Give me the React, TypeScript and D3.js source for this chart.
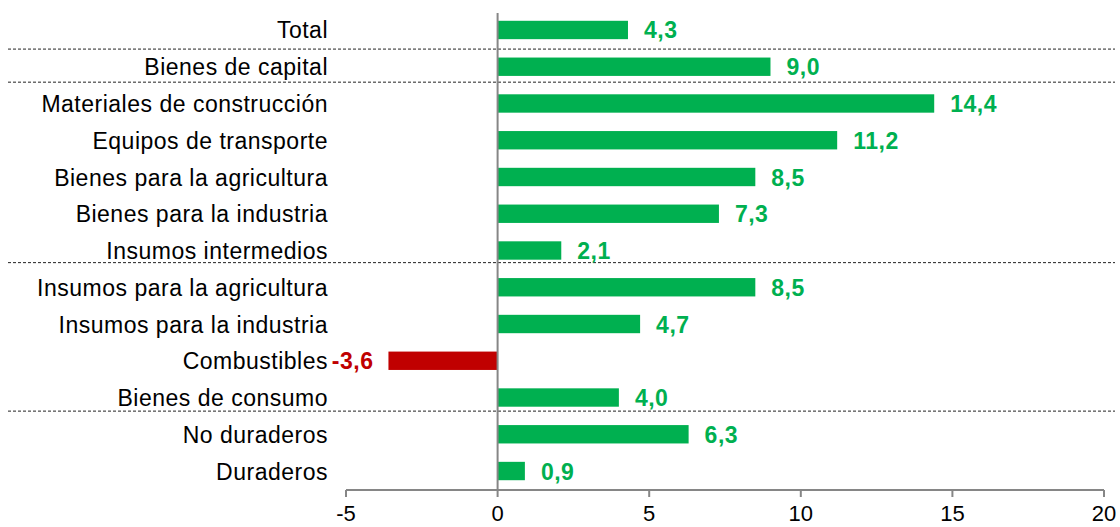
import React from "react";
import * as d3 from "d3";

const categories: string[] = [
  "Total",
  "Bienes de capital",
  "Materiales de construcción",
  "Equipos de transporte",
  "Bienes para la agricultura",
  "Bienes para la industria",
  "Insumos intermedios",
  "Insumos para la agricultura",
  "Insumos para la industria",
  "Combustibles",
  "Bienes de consumo",
  "No duraderos",
  "Duraderos",
];

const values: number[] = [4.3, 9.0, 14.4, 11.2, 8.5, 7.3, 2.1, 8.5, 4.7, -3.6, 4.0, 6.3, 0.9];

const xTicks: number[] = [-5, 0, 5, 10, 15, 20];

const separatorsAfter: string[] = ["Total", "Bienes de capital", "Insumos intermedios", "Bienes de consumo"];

// layout (not data)
const W = 1120;
const H = 527;
const sepOffsets = [0.52, 0.42, 0.33, 0.37];
const FONT = "'Liberation Sans', Arial, sans-serif";
const GREEN = "#00B050";
const RED = "#C00000";
const AXIS = "#868686";

export default function App() {
  const x = d3.scaleLinear().domain([-5, 20]).range([346, 1104]);
  const y = d3
    .scaleBand<string>()
    .domain(categories)
    .range([11.6, 489.4])
    .paddingInner(0.5)
    .paddingOuter(0.25);
  const bw = y.bandwidth();
  const step = y.step();
  const axisY = 490;
  const fmt = (v: number) => d3.format(".1f")(v).replace(".", ",").replace("−", "-");

  return (
    <svg
      width={W}
      height={H}
      style={{ position: "absolute", left: 0, top: 0, background: "#fff" }}
      fontFamily={FONT}
    >
      {/* separators */}
      {separatorsAfter.map((c, i) => {
        const yy = (y(c) as number) + bw / 2 + step * sepOffsets[i];
        return (
          <line
            key={"sep" + i}
            x1={8}
            x2={1115}
            y1={yy}
            y2={yy}
            stroke="#222"
            strokeWidth={1}
            strokeDasharray="3,2"
          />
        );
      })}

      {/* bars */}
      {categories.map((c, i) => {
        const v = values[i];
        const x0 = x(Math.min(0, v));
        const x1 = x(Math.max(0, v));
        return (
          <rect
            key={"bar" + i}
            x={x0}
            y={y(c) as number}
            width={x1 - x0}
            height={bw}
            fill={v < 0 ? RED : GREEN}
          />
        );
      })}

      {/* value labels */}
      {categories.map((c, i) => {
        const v = values[i];
        const cy = (y(c) as number) + bw / 2;
        return (
          <text
            key={"val" + i}
            x={v < 0 ? x(v) - 15 : x(v) + 16}
            y={cy}
            dy="0.37em"
            textAnchor={v < 0 ? "end" : "start"}
            fontWeight="bold"
            fontSize={23}
            letterSpacing={0.5}
            fill={v < 0 ? RED : GREEN}
          >
            {fmt(v)}
          </text>
        );
      })}

      {/* category labels */}
      {categories.map((c, i) => {
        const cy = (y(c) as number) + bw / 2;
        return (
          <text
            key={"cat" + i}
            x={328}
            y={cy}
            dy="0.37em"
            textAnchor="end"
            fontSize={23}
            letterSpacing={0.5}
            fill="#000"
          >
            {c}
          </text>
        );
      })}

      {/* zero line */}
      <line x1={x(0)} x2={x(0)} y1={13} y2={axisY} stroke={AXIS} strokeWidth={2} />

      {/* x axis */}
      <line x1={x(-5)} x2={x(20)} y1={axisY} y2={axisY} stroke={AXIS} strokeWidth={2} />
      {xTicks.map((t) => (
        <g key={"t" + t}>
          <line x1={x(t)} x2={x(t)} y1={axisY} y2={axisY + 7} stroke={AXIS} strokeWidth={2} />
          <text x={x(t)} y={521} textAnchor="middle" fontSize={22} fill="#000">
            {t}
          </text>
        </g>
      ))}
    </svg>
  );
}
